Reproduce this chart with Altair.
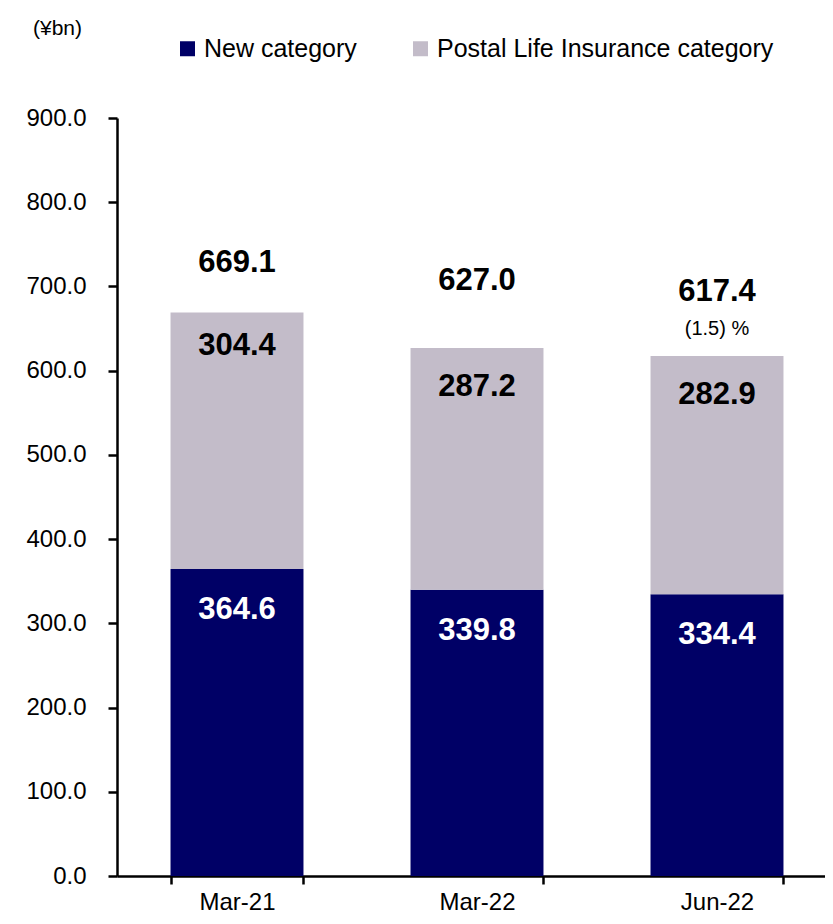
import altair as alt
import pandas as pd

categories = ["Mar-21", "Mar-22", "Jun-22"]
series = ["New category", "Postal Life Insurance category"]
new_values = [364.6, 339.8, 334.4]
postal_values = [304.4, 287.2, 282.9]
totals = [669.1, 627.0, 617.4]
change_labels = ["", "", "(1.5) %"]
y_ticks = [0, 100, 200, 300, 400, 500, 600, 700, 800, 900]

NAVY = "#000066"
GRAY = "#C3BCC9"
FONT = "Liberation Sans"

rows = []
for i, c in enumerate(categories):
    rows.append(dict(cat=c, series=series[0], value=new_values[i], order=0,
                     top=new_values[i], label=f"{new_values[i]:.1f}"))
    rows.append(dict(cat=c, series=series[1], value=postal_values[i], order=1,
                     top=new_values[i] + postal_values[i], label=f"{postal_values[i]:.1f}"))
df = pd.DataFrame(rows)
tot = pd.DataFrame(dict(cat=categories, total=totals, totlabel=[f"{t:.1f}" for t in totals],
                        change=change_labels))

xscale = alt.Scale(domain=categories, range=[0, 720], paddingInner=0.446, paddingOuter=0.223)
yscale = alt.Scale(domain=[0, 900], nice=False, zero=True)

x_axis = alt.Axis(title=None, tickBand="extent", labelFontSize=24, labelFont=FONT,
                  labelColor="black", labelPadding=6, tickSize=8, tickWidth=2.5,
                  tickColor="black", domainColor="black", domainWidth=2.5, labelAngle=0)
y_axis = alt.Axis(title=None, values=y_ticks, format=".1f", labelFontSize=24, labelFont=FONT,
                  labelColor="black", labelPadding=22, tickSize=9, tickWidth=2.5,
                  tickColor="black", domainColor="black", domainWidth=2.5, grid=False)

bars = alt.Chart(df).mark_bar().encode(
    x=alt.X("cat:N", sort=categories, scale=xscale, axis=x_axis),
    y=alt.Y("value:Q", stack="zero", scale=yscale, axis=y_axis),
    order=alt.Order("order:Q"),
    color=alt.Color("series:N", scale=alt.Scale(domain=series, range=[NAVY, GRAY]),
                    legend=alt.Legend(orient="none", legendX=58, legendY=-82,
                                      direction="horizontal", title=None,
                                      symbolType="square", symbolSize=225,
                                      symbolStrokeWidth=0, labelFontSize=25,
                                      labelFont=FONT, labelColor="black",
                                      labelOffset=4, columnPadding=51, labelLimit=600)),
)

layers = [bars]
total_dy = [-49, -67, -64]
postal_dy = [33, 39, 39]
new_dy = 41
for i, c in enumerate(categories):
    layers.append(alt.Chart(tot).transform_filter(alt.datum.cat == c).mark_text(
        font=FONT, fontSize=31, fontWeight="bold", color="black", baseline="middle",
        dy=total_dy[i]).encode(x=alt.X("cat:N", sort=categories),
                                y=alt.Y("total:Q"), text="totlabel:N"))
    layers.append(alt.Chart(df).transform_filter(
        (alt.datum.cat == c) & (alt.datum.series == series[1])).mark_text(
        font=FONT, fontSize=31, fontWeight="bold", color="black", baseline="middle",
        dy=postal_dy[i]).encode(x=alt.X("cat:N", sort=categories),
                                 y=alt.Y("top:Q"), text="label:N"))
layers.append(alt.Chart(df).transform_filter(alt.datum.series == series[0]).mark_text(
    font=FONT, fontSize=31, fontWeight="bold", color="white", baseline="middle",
    dy=new_dy).encode(x=alt.X("cat:N", sort=categories), y=alt.Y("top:Q"), text="label:N"))
layers.append(alt.Chart(tot).transform_filter(alt.datum.change != "").mark_text(
    font=FONT, fontSize=20, color="black", baseline="middle",
    dy=-27).encode(x=alt.X("cat:N", sort=categories), y=alt.Y("total:Q"), text="change:N"))

chart = alt.layer(*layers).properties(
    width=708, height=758,
    title=alt.Title("(¥bn)", anchor="start", frame="group", fontSize=21, fontWeight="normal",
                    font=FONT, color="black", dx=-84, offset=-3),
    autosize=alt.AutoSizeParams(type="none"),
    padding={"left": 109, "top": 110, "right": 0, "bottom": 39},
).configure_view(stroke=None)

chart.save("out.html", embed_options={"renderer": "svg", "actions": False})
